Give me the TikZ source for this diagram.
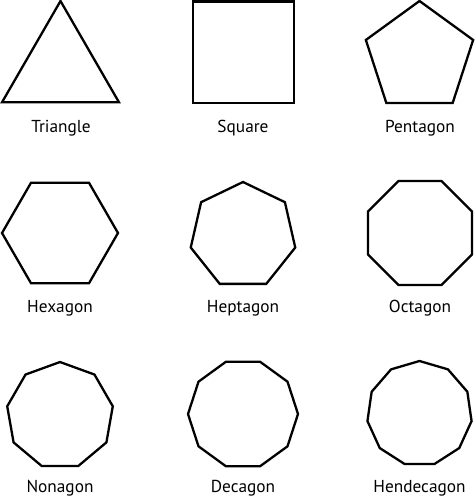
\documentclass[tikz,border=0pt]{standalone}
\usepackage{fontspec}
\setmainfont{PT Sans}
\usetikzlibrary{calc}
\tikzset{
  poly/.style={draw=black, line width=2.3pt, line join=miter},
  lbl/.style={anchor=base, font=\fontsize{17.3}{20}\selectfont, inner sep=0pt}
}
\newcommand{\regpoly}[5]{% cx, cy, n, R, start angle
  \draw[poly] ($(#1,#2)+(#5:#4)$)
    \foreach \k in {1,...,\numexpr#3-1\relax} { -- ($(#1,#2)+({#5+360*\k/#3}:#4)$) } -- cycle;
}
\begin{document}
\begin{tikzpicture}[x=1pt,y=-1pt]
\useasboundingbox (0,0) rectangle (474,497);
\fill[white] (0,0) rectangle (474,497);
% row 1
\regpoly{60.5}{68.5}{3}{67.5}{270}
\draw[poly] (193,1.5) rectangle (294,103);
\draw[black, line width=3pt] (192,1.5) -- (295,1.5);
\regpoly{419.5}{57.4}{5}{56.4}{270}
\node[lbl] (t1) at (61,132.5) {Triangle};
\node[lbl] (t2) at (243,132.5) {Square};
\node[lbl] (t3) at (420,132.5) {Pentagon};
% row 2
\regpoly{60}{233}{6}{58}{0}
\regpoly{243}{235.6}{7}{53.6}{270}
\regpoly{420}{233}{8}{56.3}{22.5}
\node[lbl] (t4) at (60,312.5) {Hexagon};
\node[lbl] (t5) at (243,312.5) {Heptagon};
\node[lbl] (t6) at (420,312.5) {Octagon};
% row 3
\regpoly{60}{415.6}{9}{53.6}{270}
\regpoly{243}{414}{10}{55}{0}
\regpoly{419.5}{413.6}{11}{52.6}{270}
\node[lbl] (t7) at (60,492) {Nonagon};
\node[lbl] (t8) at (243,492) {Decagon};
\node[lbl] (t9) at (419.5,492) {Hendecagon};
\end{tikzpicture}
\end{document}
